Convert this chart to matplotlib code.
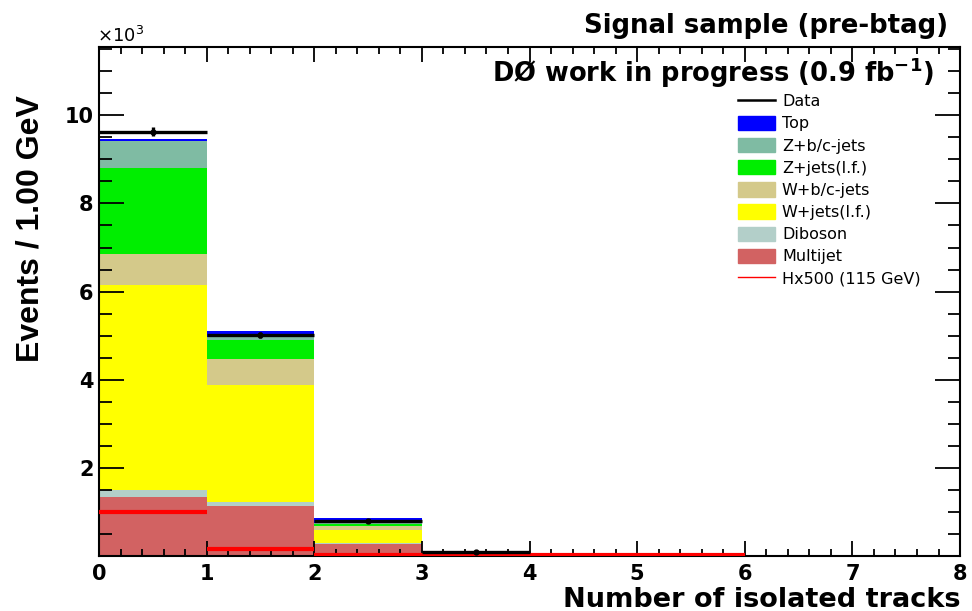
import numpy as np
import matplotlib.pyplot as plt
from matplotlib.patches import Patch
from matplotlib.lines import Line2D

plt.rcParams['font.family'] = ['DejaVu Sans']

# bin edges: number of isolated tracks 0..8
edges = np.arange(0, 9)

# stacked backgrounds (x10^3 events), bottom to top
multijet = [1.35, 1.14, 0.27, 0.03, 0, 0, 0, 0]
diboson = [0.15, 0.09, 0.02, 0.005, 0, 0, 0, 0]
wjets_lf = [4.66, 2.64, 0.31, 0.03, 0, 0, 0, 0]
wbc = [0.70, 0.60, 0.07, 0.01, 0, 0, 0, 0]
zjets_lf = [1.94, 0.44, 0.06, 0.01, 0, 0, 0, 0]
zbc = [0.62, 0.07, 0.03, 0.005, 0, 0, 0, 0]
top = [0.05, 0.12, 0.10, 0.02, 0, 0, 0, 0]

data = [9.63, 5.02, 0.80, 0.10]
data_err = [0.10, 0.07, 0.03, 0.01]
signal = [1.00, 0.16, 0.03, 0.03, 0.03, 0.03]  # H x500 (115 GeV), bins 0..5

stack = [
    (multijet, '#d26262', 'Multijet'),
    (diboson, '#b3cfc9', 'Diboson'),
    (wjets_lf, '#ffff00', 'W+jets(l.f.)'),
    (wbc, '#d4c98a', 'W+b/c-jets'),
    (zjets_lf, '#00ee00', 'Z+jets(l.f.)'),
    (zbc, '#7fbba3', 'Z+b/c-jets'),
    (top, '#0000ff', 'Top'),
]

fig = plt.figure(figsize=(9.72, 6.11), dpi=100)
ax = fig.add_axes([0.1019, 0.0900, 0.8858, 0.8331])

base = np.zeros(8)
for vals, col, lab in stack:
    vals = np.array(vals)
    ax.stairs(base + vals, edges, baseline=base, fill=True, color=col, lw=0)
    base = base + vals

# signal: flat segments only
for i in range(len(signal)):
    ax.hlines(signal[i], edges[i], edges[i + 1], color='red', lw=3, zorder=4)

# data points with full-bin horizontal bars
xc = edges[:4] + 0.5
ax.errorbar(xc, data, yerr=data_err, xerr=0.5, fmt='o', ms=3.5, color='black',
            elinewidth=2.4, capsize=0, zorder=5)

ax.set_xlim(0, 8)
ax.set_ylim(0, 11.55)
ax.set_xticks(range(0, 9))
ax.set_xticks(np.arange(0, 8.01, 0.2), minor=True)
ax.set_yticks([2, 4, 6, 8, 10])
ax.set_yticks(np.arange(0.5, 11.55, 0.5), minor=True)
ax.tick_params(which='both', direction='in', top=True, right=True, width=1.3)
ax.tick_params(axis='y', which='major', length=18, pad=4)
ax.tick_params(axis='y', which='minor', length=9)
ax.tick_params(axis='x', which='major', length=11, pad=6)
ax.tick_params(axis='x', which='minor', length=5)
ax.tick_params(labelsize=15)
for t in ax.get_xticklabels() + ax.get_yticklabels():
    t.set_fontweight('bold')
for s in ax.spines.values():
    s.set_linewidth(1.5)

ax.set_xlabel('Number of isolated tracks', fontsize=19.5, fontweight='bold',
              ha='right', va='baseline')
ax.xaxis.set_label_coords(1.0, -0.100)
ax.set_ylabel('Events / 1.00 GeV', fontsize=23, fontweight='bold',
              ha='right', family='Liberation Sans')
ax.yaxis.set_label_coords(-0.062, 0.906)

fig.text(0.975, 1 - 33 / 611, 'Signal sample (pre-btag)', fontsize=18.7, fontweight='bold',
         ha='right', va='baseline')
ax.text(0.969, (556 - 82) / 509, r'DØ work in progress (0.9 fb$^{\mathbf{-1}}$)',
        transform=ax.transAxes, fontsize=18.5, fontweight='bold', ha='right', va='baseline')
fig.text(0.100, 1 - 42 / 611, r'$\times$10$^3$', fontsize=13, ha='left', va='baseline')

handles = [Line2D([], [], color='black', lw=1.8)]
labels = ['Data']
for vals, col, lab in stack[::-1]:
    handles.append(Patch(facecolor=col, edgecolor=col))
    labels.append(lab)
handles.append(Line2D([], [], color='red', lw=1))
labels.append('Hx500 (115 GeV)')
ax.legend(handles, labels, loc='upper left', bbox_to_anchor=(0.733, 0.924),
          frameon=False, fontsize=11.5, handlelength=2.3, handleheight=1.0,
          labelspacing=0.41, handletextpad=0.44, borderpad=0)

fig.savefig('out.png')
